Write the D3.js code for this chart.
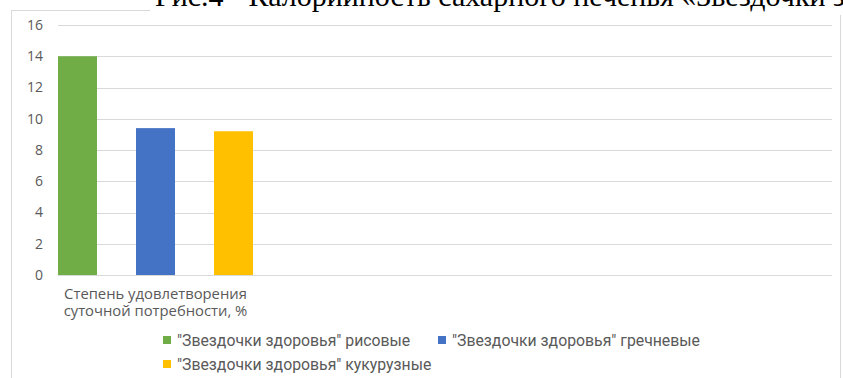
<!DOCTYPE html>
<html>
<head>
<meta charset="utf-8">
<script src="https://cdn.jsdelivr.net/npm/d3@7"></script>
<style>
  body { margin: 0; background: #fff; }
  svg { display: block; }
</style>
</head>
<body>
<div id="chart"></div>
<script>
// data
const categories = ["Степень удовлетворения суточной потребности, %"];
const categoryLines = [["Степень удовлетворения", "суточной потребности, %"]];
const seriesNames = [
    "\"Звездочки здоровья\" рисовые",
    "\"Звездочки здоровья\" гречневые",
    "\"Звездочки здоровья\" кукурузные"
];
const seriesValues = [14, 9.4, 9.2];
const seriesColors = ["#70ad47", "#4472c4", "#ffc000"];
const yTicks = [0, 2, 4, 6, 8, 10, 12, 14, 16];
const caption = "Рис.4 - Калорийность сахарного печенья «Звездочки здоровья»";

const width = 843, height = 378;
const margin = { top: 25, right: 8, bottom: 103, left: 58 };
const chartWidth = width - margin.left - margin.right;
const chartHeight = height - margin.top - margin.bottom;

const svg = d3.select("#chart").append("svg")
    .attr("width", width)
    .attr("height", height);

// chart frame
svg.append("rect")
    .attr("x", 11.5).attr("y", 10.5)
    .attr("width", 829).attr("height", 380)
    .attr("fill", "none")
    .attr("stroke", "#d9d9d9");

const g = svg.append("g")
    .attr("transform", `translate(${margin.left},${margin.top})`);

// scales
const y = d3.scaleLinear().domain([0, 16]).range([chartHeight, 0]);

const x0 = d3.scaleBand()
    .domain(categories)
    .range([0, 195]);

const x1 = d3.scaleBand()
    .domain(seriesNames)
    .range([0, x0.bandwidth()])
    .paddingInner(0.5)
    .paddingOuter(0);

// gridlines
g.append("g")
    .selectAll("line")
    .data(yTicks)
    .enter().append("line")
    .attr("x1", 0).attr("x2", chartWidth - 3)
    .attr("y1", d => Math.round(y(d)) + 0.5)
    .attr("y2", d => Math.round(y(d)) + 0.5)
    .attr("stroke", "#d9d9d9");

// y tick labels
g.append("g")
    .selectAll("text")
    .data(yTicks)
    .enter().append("text")
    .attr("x", -15)
    .attr("y", d => y(d))
    .attr("dy", "0.35em")
    .attr("text-anchor", "end")
    .attr("fill", "#595959")
    .style("font-family", "'Open Sans', sans-serif")
    .style("font-size", "14px")
    .text(d => d);

// bars
categories.forEach((c, ci) => {
    g.append("g")
        .selectAll("rect")
        .data(seriesValues)
        .enter().append("rect")
        .attr("x", (d, i) => x0(c) + x1(seriesNames[i]))
        .attr("y", d => y(d))
        .attr("width", x1.bandwidth())
        .attr("height", d => y(0) - y(d))
        .attr("fill", (d, i) => seriesColors[i]);

    // category label, one text per line
    g.append("g")
        .selectAll("text")
        .data(categoryLines[ci])
        .enter().append("text")
        .attr("x", x0(c) + x0.bandwidth() / 2)
        .attr("y", (d, li) => chartHeight + 24 + li * 17)
        .attr("text-anchor", "middle")
        .attr("fill", "#595959")
        .style("font-family", "'Open Sans', sans-serif")
        .style("font-size", "14.8px")
        .text(d => d);
});

// legend
const legendPos = [[163, 340], [438, 340], [163, 364]];
const legend = svg.append("g");
seriesNames.forEach((name, i) => {
    const row = legend.append("g")
        .attr("transform", `translate(${legendPos[i][0]},${legendPos[i][1]})`);
    row.append("rect")
        .attr("x", 0).attr("y", -4)
        .attr("width", 8).attr("height", 8)
        .attr("fill", seriesColors[i]);
    row.append("text")
        .attr("x", 14)
        .attr("dy", "0.35em")
        .attr("fill", "#595959")
        .style("font-family", "Roboto, sans-serif")
        .style("font-size", "15.8px")
        .text(name);
});

// caption cut off at the top, sitting on a white band
svg.append("rect")
    .attr("x", 150).attr("y", 0)
    .attr("width", width - 150).attr("height", 15)
    .attr("fill", "#fff");
svg.append("text")
    .attr("x", 155)
    .attr("y", 6)
    .attr("fill", "#000")
    .style("font-family", "'Liberation Serif', 'Times New Roman', serif")
    .style("font-size", "30px")
    .text(caption);
</script>
</body>
</html>
